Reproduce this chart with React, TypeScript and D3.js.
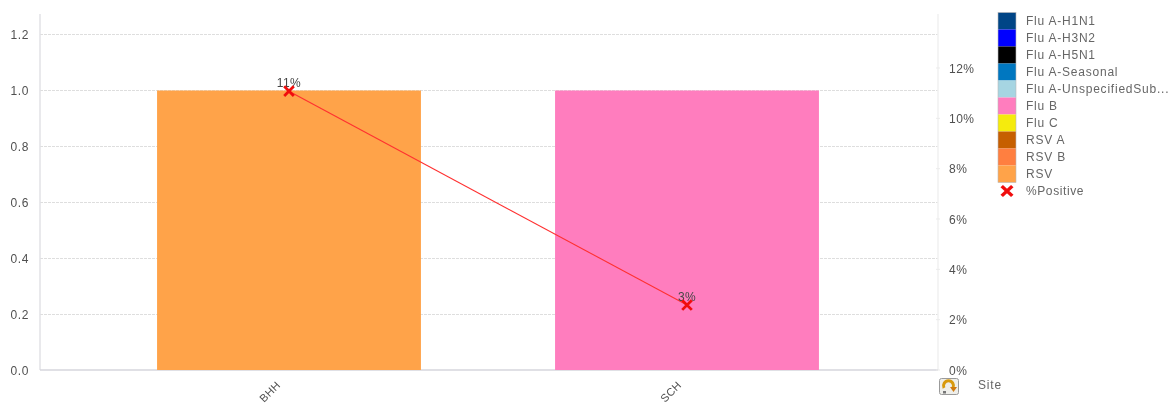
import React from "react";
import * as d3 from "d3";

const sites = ["BHH", "SCH"];
const barValues = [1, 1];
const barColors = ["#FFA348", "#FF7DBE"];
const positive = [11.08, 2.58];
const positiveLabels = ["11%", "3%"];
const leftTicks = [0, 0.2, 0.4, 0.6, 0.8, 1.0, 1.2];
const rightTicks = [0, 2, 4, 6, 8, 10, 12];
const legendNames = [
  "Flu A-H1N1", "Flu A-H3N2", "Flu A-H5N1", "Flu A-Seasonal", "Flu A-UnspecifiedSub...",
  "Flu B", "Flu C", "RSV A", "RSV B", "RSV",
];
const legendColors = [
  "#004586", "#0000FF", "#000000", "#0077C0", "#A6D5E2",
  "#FF7DBE", "#F5EB0A", "#C65F05", "#FF7F3F", "#FFA348",
];

const W = 1173, H = 407;
const plot = { left: 40, right: 938, top: 14, bottom: 370 };
const font = "'Liberation Sans', Arial, sans-serif";
const textColor = "#505050";

const App = () => {
  const x = d3.scaleBand<string>().domain(sites).range([90, 886]);
  const barW = x.bandwidth() * 0.663;
  const yL = d3.scaleLinear().domain([0, 1.2]).range([plot.bottom, 34]);
  const yR = d3.scaleLinear().domain([0, 12]).range([plot.bottom, 68]);
  const cx = (s: string) => (x(s) as number) + x.bandwidth() / 2;
  const line = d3.line<number>().x((_, i) => cx(sites[i])).y((d) => yR(d));
  const star = d3.symbol().type(d3.symbolTimes).size(62);
  const rowH = 17;
  const legendTop = 12.5;

  return (
    <svg width={W} height={H} style={{ position: "absolute", left: 0, top: 0, background: "#fff" }} fontFamily={font}>
      <defs>
        <filter id="soft" x="0" y="0" width="100%" height="100%">
          <feGaussianBlur stdDeviation="0.55" />
        </filter>
      </defs>
      <g filter="url(#soft)">
        <rect x={0} y={0} width={W} height={H} fill="#fff" />
        {leftTicks.filter((t) => t > 0).map((t) => (
          <line key={t} x1={plot.left} x2={plot.right} y1={yL(t) + 0.5} y2={yL(t) + 0.5} stroke="#dedede" strokeWidth={1} strokeDasharray="3 1" />
        ))}
        <line x1={plot.left} x2={plot.left} y1={plot.top} y2={plot.bottom} stroke="#e2e2e6" strokeWidth={1.5} />
        <line x1={plot.right} x2={plot.right} y1={plot.top} y2={plot.bottom} stroke="#f0f0f0" strokeWidth={1.5} />
        <line x1={plot.left} x2={plot.right} y1={plot.bottom} y2={plot.bottom} stroke="#d6d6dc" strokeWidth={1.5} />
        {sites.map((s, i) => (
          <rect key={s} x={cx(s) - barW / 2} width={barW} y={yL(barValues[i]) + 0.5} height={yL(0) - yL(barValues[i]) - 0.5} fill={barColors[i]} />
        ))}
        {leftTicks.map((t) => (
          <text key={t} x={29} y={yL(t) + 4.5} textAnchor="end" fontSize={12} letterSpacing={0.6} fill={textColor}>{t.toFixed(1)}</text>
        ))}
        {rightTicks.map((t) => (
          <g key={t}>
            <line x1={plot.right - 2} x2={plot.right + 2} y1={yR(t)} y2={yR(t)} stroke="#ebebeb" />
            <text x={949} y={yR(t) + 4.5} fontSize={12} letterSpacing={0.5} fill={textColor}>{t}%</text>
          </g>
        ))}
        {sites.map((s, i) => (
          <text key={s} transform={`translate(${cx(s) - (i === 0 ? 25 : 22)},${403}) rotate(-45)`} fontSize={11} letterSpacing={0.4} fill={textColor}>{s}</text>
        ))}
        <path d={line(positive) as string} fill="none" stroke="#FF3030" strokeWidth={1.1} />
        {positive.map((v, i) => (
          <g key={sites[i]}>
            <text x={cx(sites[i])} y={yR(v) - 4} textAnchor="middle" fontSize={12} letterSpacing={0.4} fill="#454545">{positiveLabels[i]}</text>
            <path transform={`translate(${cx(sites[i])},${yR(v)})`} d={star() as string} fill="none" stroke="#F01010" strokeWidth={2.8} />
          </g>
        ))}
        {legendNames.map((n, i) => (
          <g key={n}>
            <rect x={998} width={18} y={legendTop + i * rowH} height={rowH} fill={legendColors[i]} />
            <text x={1026} y={legendTop + i * rowH + 12.5} fontSize={12} letterSpacing={0.78} fill="#666">{n}</text>
          </g>
        ))}
        <rect x={998} width={18} y={legendTop} height={rowH * legendNames.length} fill="none" stroke="#b8b8b8" strokeWidth={0.6} />
        <path transform="translate(1007,191) scale(1.1,1)" d={star() as string} fill="none" stroke="#F01010" strokeWidth={3.2} />
        <text x={1026} y={195} fontSize={12} letterSpacing={0.6} fill="#666">%Positive</text>
        <text x={978} y={388.5} fontSize={12} letterSpacing={0.8} fill="#666">Site</text>
        <g>
          <rect x={939.5} y={378.5} width={19} height={16} rx={2} fill="#eeeeea" stroke="#9a9a9a" />
          <path d="M944 388 a5 5 0 1 1 9 0" fill="none" stroke="#D89A10" strokeWidth={3} />
          <path d="M950 387 L957 387 L953.5 392 Z" fill="#D07A10" />
          <rect x={943} y={391} width={3} height={2.5} fill="#777" />
        </g>
      </g>
    </svg>
  );
};

export default App;
